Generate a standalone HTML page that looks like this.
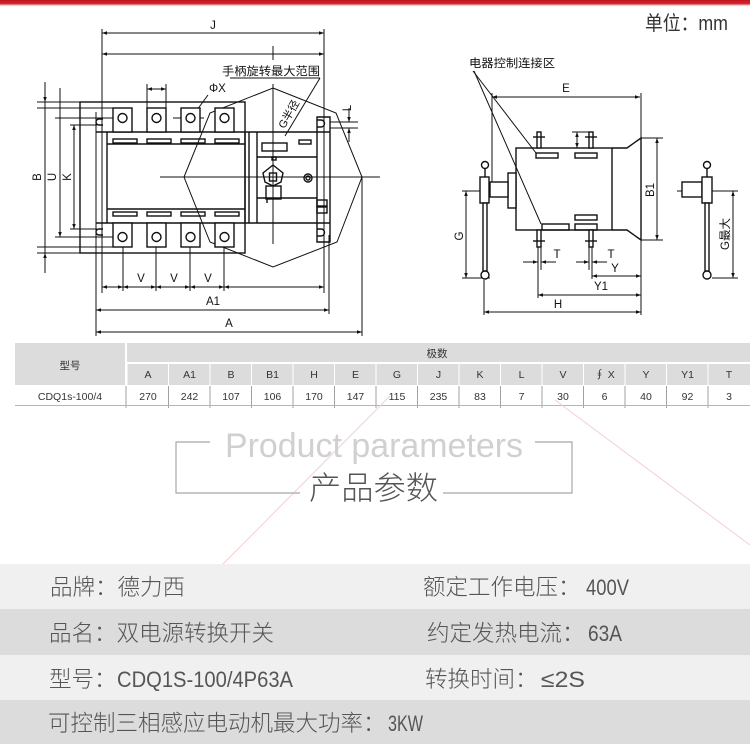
<!DOCTYPE html>
<html><head><meta charset="utf-8">
<style>
html,body{margin:0;padding:0;background:#fff;}
body{width:750px;height:744px;overflow:hidden;position:relative;}
svg{position:absolute;left:0;top:0;}
</style></head><body>
<svg width="750" height="744" viewBox="0 0 750 744" xmlns="http://www.w3.org/2000/svg">
<defs>
<linearGradient id="rg" x1="0" y1="0" x2="0" y2="1">
<stop offset="0" stop-color="#c0141c"/>
<stop offset="0.55" stop-color="#d42a30"/>
<stop offset="1" stop-color="#ffffff" stop-opacity="0"/>
</linearGradient>
<marker id="ar" viewBox="0 0 10 10" refX="10" refY="5" markerWidth="6" markerHeight="5" markerUnits="userSpaceOnUse" orient="auto-start-reverse"><path d="M0,1.5 L10,5 L0,8.5z" fill="#111"/></marker>
</defs>

<rect x="0" y="0" width="750" height="7" fill="url(#rg)"/>

<!-- unit -->
<text x="645" y="30" font-family="Liberation Sans, Noto Sans CJK SC, sans-serif" font-size="20" fill="#333" textLength="83" lengthAdjust="spacingAndGlyphs">单位：mm</text>

<!-- ============ LEFT DIAGRAM ============ -->
<g stroke="#111" stroke-width="1" fill="none">
 <!-- J dims -->
 <line x1="102" y1="33" x2="324" y2="33" marker-start="url(#ar)" marker-end="url(#ar)"/>
 <line x1="102" y1="54" x2="324" y2="54" marker-start="url(#ar)" marker-end="url(#ar)"/>
 <line x1="273" y1="46" x2="273" y2="60"/>
 <line x1="102" y1="29" x2="102" y2="293"/>
 <line x1="324" y1="29" x2="324" y2="293"/>
 <!-- label leader -->
 <line x1="230" y1="78" x2="320" y2="78"/>
 <line x1="320" y1="78" x2="285" y2="136"/>
 <!-- phi X -->
 <line x1="147" y1="84" x2="147" y2="108"/>
 <line x1="166" y1="84" x2="166" y2="108"/>
 <line x1="147" y1="89" x2="166" y2="89" marker-start="url(#ar)" marker-end="url(#ar)"/>
 <line x1="208" y1="95" x2="183" y2="129" marker-end="url(#ar)"/>
 <line x1="173" y1="118" x2="204" y2="118"/>
 <!-- B U K -->
 <line x1="37" y1="102" x2="80" y2="102"/>
 <line x1="37" y1="108" x2="113" y2="108"/>
 <line x1="37" y1="247" x2="113" y2="247"/>
 <line x1="37" y1="253" x2="80" y2="253"/>
 <line x1="45" y1="82" x2="45" y2="102" marker-end="url(#ar)"/>
 <line x1="45" y1="102" x2="45" y2="253"/>
 <line x1="45" y1="273" x2="45" y2="253" marker-end="url(#ar)"/>
 <line x1="55" y1="118" x2="113" y2="118"/>
 <line x1="55" y1="237" x2="113" y2="237"/>
 <line x1="60" y1="88" x2="60" y2="237" marker-end="url(#ar)"/>
 <line x1="70" y1="125" x2="97" y2="125"/>
 <line x1="70" y1="229" x2="97" y2="229"/>
 <line x1="74" y1="125" x2="74" y2="229" marker-start="url(#ar)" marker-end="url(#ar)"/>
 <!-- bottom dims -->
 <line x1="123" y1="247" x2="123" y2="291"/>
 <line x1="156" y1="247" x2="156" y2="291"/>
 <line x1="190" y1="247" x2="190" y2="291"/>
 <line x1="224" y1="247" x2="224" y2="291"/>
 <line x1="102" y1="287" x2="123" y2="287" marker-start="url(#ar)" marker-end="url(#ar)"/>
 <line x1="123" y1="287" x2="156" y2="287" marker-start="url(#ar)" marker-end="url(#ar)"/>
 <line x1="156" y1="287" x2="190" y2="287" marker-start="url(#ar)" marker-end="url(#ar)"/>
 <line x1="190" y1="287" x2="224" y2="287" marker-start="url(#ar)" marker-end="url(#ar)"/>
 <line x1="224" y1="287" x2="324" y2="287" marker-start="url(#ar)" marker-end="url(#ar)"/>
 <line x1="96" y1="310" x2="329" y2="310" marker-start="url(#ar)" marker-end="url(#ar)"/>
 <line x1="96" y1="332" x2="362" y2="332" marker-start="url(#ar)" marker-end="url(#ar)"/>
 <line x1="96" y1="112" x2="96" y2="336"/>
 <line x1="329" y1="235" x2="329" y2="314"/>
 <line x1="362" y1="177" x2="362" y2="336"/>
 <!-- L -->
 <line x1="330" y1="122" x2="358" y2="122"/>
 <line x1="330" y1="128" x2="358" y2="128"/>
 <line x1="349" y1="108" x2="349" y2="122" marker-end="url(#ar)"/>
 <line x1="349" y1="142" x2="349" y2="128" marker-end="url(#ar)"/>
 <!-- octagon & centerlines -->
 <polygon points="273,88 336,113 362,177 337,242 273,267 210,242 184,177 210,113"/>
 <line x1="160" y1="177" x2="380" y2="177"/>
 <line x1="273" y1="84" x2="273" y2="244"/>
</g>

<g stroke="#111" stroke-width="1.4" fill="none">
 <rect x="80" y="102" width="165" height="151"/>
 <line x1="96" y1="132" x2="330" y2="132"/>
 <line x1="96" y1="223" x2="330" y2="223"/>
 <line x1="107" y1="132" x2="107" y2="223"/>
 <line x1="107" y1="144" x2="245" y2="144"/>
 <line x1="107" y1="209" x2="245" y2="209"/>
 <line x1="245" y1="132" x2="245" y2="223"/>
 <line x1="249" y1="132" x2="249" y2="223"/>
 <line x1="257" y1="132" x2="257" y2="223"/>
 <path d="M103,119 H99 A3,3 0 0 0 99,125 H103"/>
 <path d="M103,229 H99 A3,3 0 0 0 99,235 H103"/>
 <!-- terminals -->
 <g fill="#fff">
  <rect x="113" y="108" width="19" height="24"/>
  <rect x="147" y="108" width="19" height="24"/>
  <rect x="181" y="108" width="19" height="24"/>
  <rect x="215" y="108" width="19" height="24"/>
  <rect x="113" y="223" width="19" height="24"/>
  <rect x="147" y="223" width="19" height="24"/>
  <rect x="181" y="223" width="19" height="24"/>
  <rect x="215" y="223" width="19" height="24"/>
 </g>
 <circle cx="122.5" cy="118" r="4.5"/><circle cx="156.5" cy="118" r="4.5"/><circle cx="190.5" cy="118" r="4.5"/><circle cx="224.5" cy="118" r="4.5"/>
 <circle cx="122.5" cy="237" r="4.5"/><circle cx="156.5" cy="237" r="4.5"/><circle cx="190.5" cy="237" r="4.5"/><circle cx="224.5" cy="237" r="4.5"/>
 <rect x="113" y="139" width="24" height="4"/><rect x="147" y="139" width="24" height="4"/><rect x="181" y="139" width="24" height="4"/><rect x="215" y="139" width="24" height="4"/>
 <rect x="113" y="212" width="24" height="4"/><rect x="147" y="212" width="24" height="4"/><rect x="181" y="212" width="24" height="4"/><rect x="215" y="212" width="24" height="4"/>
 <!-- controller -->
 <line x1="257" y1="157" x2="317" y2="157"/>
 <line x1="257" y1="198" x2="317" y2="198"/>
 <rect x="262" y="143" width="25" height="8"/>
 <rect x="299" y="140" width="12" height="4"/>
 <rect x="272" y="157" width="4" height="3"/>
 <path d="M273,165 L283,173 L281,182 L273,186 L265,182 L263,173 Z"/>
 <rect x="269.5" y="173" width="7" height="8"/>
 <rect x="266" y="186" width="15" height="13"/>
 <line x1="267" y1="199" x2="267" y2="203"/>
 <circle cx="308" cy="178" r="4"/><circle cx="308" cy="178" r="2"/>
 <path d="M317,117 H330 V242 H317 Z"/>
 <path d="M317,120 H321 A3,3 0 0 1 321,127 H317"/>
 <path d="M317,229 H321 A3,3 0 0 1 321,236 H317"/>
 <rect x="317" y="200" width="10" height="6"/>
 <rect x="317" y="207" width="10" height="6"/>
</g>

<g font-family="Liberation Sans, Noto Sans CJK SC, sans-serif" font-size="11.5" fill="#111">
 <text x="213" y="29" text-anchor="middle">J</text>
 <text x="222" y="75" font-size="11.5" textLength="98" lengthAdjust="spacingAndGlyphs">手柄旋转最大范围</text>
 <text x="209" y="92">ΦX</text>
 <text x="141" y="282" text-anchor="middle">V</text>
 <text x="174" y="282" text-anchor="middle">V</text>
 <text x="208" y="282" text-anchor="middle">V</text>
 <text x="213" y="305" text-anchor="middle">A1</text>
 <text x="229" y="327" text-anchor="middle">A</text>
 <text transform="translate(41,177) rotate(-90)" text-anchor="middle">B</text>
 <text transform="translate(56,177) rotate(-90)" text-anchor="middle">U</text>
 <text transform="translate(71,177) rotate(-90)" text-anchor="middle">K</text>
 <text transform="translate(351,108) rotate(-90)" text-anchor="middle">L</text>
 <text transform="translate(292,116) rotate(-60)" text-anchor="middle" font-size="11">G半径</text>
</g>

<!-- ============ RIGHT DIAGRAM ============ -->
<g stroke="#111" stroke-width="1" fill="none">
 <line x1="473" y1="71" x2="536" y2="153"/>
 <line x1="474" y1="71" x2="541" y2="224"/>
 <line x1="492" y1="97" x2="640" y2="97" marker-start="url(#ar)" marker-end="url(#ar)"/>
 <line x1="492" y1="93" x2="492" y2="182"/>
 <line x1="641" y1="93" x2="641" y2="138"/>
 <line x1="657" y1="138" x2="657" y2="240" marker-start="url(#ar)" marker-end="url(#ar)"/>
 <line x1="641" y1="138" x2="663" y2="138"/>
 <line x1="641" y1="240" x2="663" y2="240"/>
 <line x1="577" y1="132" x2="577" y2="148" marker-start="url(#ar)" marker-end="url(#ar)"/>
 <line x1="572" y1="132" x2="589" y2="132"/>
 <!-- G left -->
 <line x1="462" y1="191" x2="490" y2="191"/>
 <line x1="462" y1="278" x2="490" y2="278"/>
 <line x1="466" y1="191" x2="466" y2="278" marker-start="url(#ar)" marker-end="url(#ar)"/>
 <!-- T, Y, Y1, H -->
 <line x1="538" y1="247" x2="538" y2="298"/>
 <line x1="541" y1="247" x2="541" y2="270"/>
 <line x1="589" y1="247" x2="589" y2="270"/>
 <line x1="592" y1="247" x2="592" y2="279"/>
 <line x1="641" y1="240" x2="641" y2="315"/>
 <line x1="484" y1="280" x2="484" y2="315"/>
 <line x1="523" y1="262" x2="538" y2="262" marker-end="url(#ar)"/>
 <line x1="556" y1="262" x2="541" y2="262" marker-end="url(#ar)"/>
 <line x1="576" y1="262" x2="589" y2="262" marker-end="url(#ar)"/>
 <line x1="607" y1="262" x2="592" y2="262" marker-end="url(#ar)"/>
 <line x1="592" y1="276" x2="641" y2="276" marker-start="url(#ar)" marker-end="url(#ar)"/>
 <line x1="538" y1="295" x2="641" y2="295" marker-start="url(#ar)" marker-end="url(#ar)"/>
 <line x1="484" y1="312" x2="641" y2="312" marker-start="url(#ar)" marker-end="url(#ar)"/>
 <!-- right view dims -->
 <line x1="677" y1="191" x2="738" y2="191"/>
 <line x1="712" y1="278" x2="738" y2="278"/>
 <line x1="733" y1="191" x2="733" y2="278" marker-start="url(#ar)" marker-end="url(#ar)"/>
</g>
<g stroke="#111" stroke-width="1.4" fill="none">
 <rect x="516" y="148" width="96" height="82"/>
 <polyline points="612,148 627,148 641,138 641,240 627,230 612,230"/>
 <rect x="536" y="153" width="22" height="5"/>
 <rect x="575" y="153" width="22" height="5"/>
 <rect x="542" y="224" width="27" height="6"/>
 <rect x="575" y="224" width="22" height="6"/>
 <rect x="575" y="215" width="22" height="5"/>
 <rect x="537" y="132" width="4" height="16" fill="#fff"/>
 <line x1="533" y1="137" x2="545" y2="137"/>
 <rect x="589" y="132" width="4" height="16" fill="#fff"/>
 <line x1="585" y1="137" x2="597" y2="137"/>
 <rect x="537" y="230" width="4" height="17" fill="#fff"/>
 <line x1="533" y1="241" x2="545" y2="241"/>
 <rect x="589" y="230" width="4" height="17" fill="#fff"/>
 <line x1="585" y1="241" x2="597" y2="241"/>
 <!-- left handle -->
 <rect x="508" y="173" width="8" height="35" fill="#fff"/>
 <rect x="490" y="182" width="18" height="15" fill="#fff"/>
 <line x1="485" y1="168" x2="485" y2="177"/>
 <rect x="480" y="177" width="9" height="26" fill="#fff"/>
 <rect x="483" y="203" width="4" height="68" fill="#fff"/>
 <circle cx="485" cy="165" r="3.5" fill="#fff"/>
 <circle cx="485" cy="275" r="4" fill="#fff"/>
 <!-- right handle -->
 <rect x="682" y="182" width="20" height="15" fill="#fff"/>
 <line x1="707" y1="168" x2="707" y2="177"/>
 <rect x="702" y="177" width="10" height="26" fill="#fff"/>
 <rect x="705" y="203" width="4" height="68" fill="#fff"/>
 <circle cx="707" cy="165" r="3.5" fill="#fff"/>
 <circle cx="707" cy="275" r="4" fill="#fff"/>
</g>
<g font-family="Liberation Sans, Noto Sans CJK SC, sans-serif" font-size="11.5" fill="#111">
 <text x="469" y="67" textLength="86" lengthAdjust="spacingAndGlyphs">电器控制连接区</text>
 <text x="566" y="92" text-anchor="middle">E</text>
 <text transform="translate(654,190) rotate(-90)" text-anchor="middle">B1</text>
 <text transform="translate(463,236) rotate(-90)" text-anchor="middle">G</text>
 <text transform="translate(729,234) rotate(-90)" text-anchor="middle">G最大</text>
 <text x="557" y="258" text-anchor="middle">T</text>
 <text x="611" y="258" text-anchor="middle">T</text>
 <text x="615" y="272" text-anchor="middle">Y</text>
 <text x="601" y="290" text-anchor="middle">Y1</text>
 <text x="558" y="308" text-anchor="middle">H</text>
</g>

<!-- ============ TABLE ============ -->
<g fill="#dcdcdc">
 <rect x="15" y="343" width="110" height="42"/>
 <rect x="127" y="343" width="623" height="19"/>
</g>
<g fill="#dcdcdc">
 <rect x="127.5" y="364" width="40.5" height="21"/>
 <rect x="169" y="364" width="40.5" height="21"/>
 <rect x="210.5" y="364" width="40.5" height="21"/>
 <rect x="252" y="364" width="40.5" height="21"/>
 <rect x="293.5" y="364" width="40.5" height="21"/>
 <rect x="335" y="364" width="40.5" height="21"/>
 <rect x="376.5" y="364" width="40.5" height="21"/>
 <rect x="418" y="364" width="40.5" height="21"/>
 <rect x="459.5" y="364" width="40.5" height="21"/>
 <rect x="501" y="364" width="40.5" height="21"/>
 <rect x="542.5" y="364" width="40.5" height="21"/>
 <rect x="584" y="364" width="40.5" height="21"/>
 <rect x="625.5" y="364" width="40.5" height="21"/>
 <rect x="667" y="364" width="40.5" height="21"/>
 <rect x="708.5" y="364" width="41.5" height="21"/>
</g>
<g stroke="#8a8a8a" stroke-width="0.8">
 <line x1="126" y1="386" x2="126" y2="408"/>
 <line x1="168.5" y1="386" x2="168.5" y2="408"/>
 <line x1="210" y1="386" x2="210" y2="408"/>
 <line x1="251.5" y1="386" x2="251.5" y2="408"/>
 <line x1="293" y1="386" x2="293" y2="408"/>
 <line x1="334.5" y1="386" x2="334.5" y2="408"/>
 <line x1="376" y1="386" x2="376" y2="408"/>
 <line x1="417.5" y1="386" x2="417.5" y2="408"/>
 <line x1="459" y1="386" x2="459" y2="408"/>
 <line x1="500.5" y1="386" x2="500.5" y2="408"/>
 <line x1="542" y1="386" x2="542" y2="408"/>
 <line x1="583.5" y1="386" x2="583.5" y2="408"/>
 <line x1="625" y1="386" x2="625" y2="408"/>
 <line x1="666.5" y1="386" x2="666.5" y2="408"/>
 <line x1="708" y1="386" x2="708" y2="408"/>
</g>
<line x1="15" y1="405.5" x2="750" y2="405.5" stroke="#b5b5b5" stroke-width="1"/>
<g font-family="Liberation Sans, Noto Sans CJK SC, sans-serif" font-size="10.5" fill="#333" text-anchor="middle">
 <text x="70" y="369">型号</text>
 <text x="437" y="357">极数</text>
 <text x="70" y="400">CDQ1s-100/4</text>
 <text x="148" y="378">A</text><text x="189.5" y="378">A1</text><text x="231" y="378">B</text><text x="272.5" y="378">B1</text>
 <text x="314" y="378">H</text><text x="355.5" y="378">E</text><text x="397" y="378">G</text><text x="438.5" y="378">J</text>
 <text x="480" y="378">K</text><text x="521.5" y="378">L</text><text x="563" y="378">V</text><text x="604.5" y="378">∮ X</text>
 <text x="646" y="378">Y</text><text x="687.5" y="378">Y1</text><text x="729" y="378">T</text>
 <text x="148" y="400">270</text><text x="189.5" y="400">242</text><text x="231" y="400">107</text><text x="272.5" y="400">106</text>
 <text x="314" y="400">170</text><text x="355.5" y="400">147</text><text x="397" y="400">115</text><text x="438.5" y="400">235</text>
 <text x="480" y="400">83</text><text x="521.5" y="400">7</text><text x="563" y="400">30</text><text x="604.5" y="400">6</text>
 <text x="646" y="400">40</text><text x="687.5" y="400">92</text><text x="729" y="400">3</text>
</g>

<!-- ============ TITLE ============ -->
<line x1="390" y1="396" x2="223" y2="564" stroke="#f3cfcf" stroke-width="1"/>
<line x1="555" y1="400" x2="750" y2="545" stroke="#f3cfcf" stroke-width="1"/>
<polyline points="210,442 176,442 176,493 300,493" fill="none" stroke="#a8a8a8" stroke-width="1.2"/>
<polyline points="535,442 572,442 572,493 443,493" fill="none" stroke="#a8a8a8" stroke-width="1.2"/>
<text x="225" y="457" font-family="Liberation Sans, sans-serif" font-size="34" fill="#d0d0d0" textLength="298" lengthAdjust="spacingAndGlyphs">Product parameters</text>
<text x="309" y="499" font-family="Liberation Sans, Noto Sans CJK SC, sans-serif" font-size="32" font-weight="300" fill="#555" textLength="129" lengthAdjust="spacingAndGlyphs">产品参数</text>

<!-- ============ INFO ROWS ============ -->
<rect x="0" y="564" width="750" height="45" fill="#f0f0f0"/>
<rect x="0" y="609" width="750" height="46" fill="#dcdcdc"/>
<rect x="0" y="655" width="750" height="45" fill="#f0f0f0"/>
<rect x="0" y="700" width="750" height="44" fill="#dcdcdc"/>
<g font-family="Liberation Sans, Noto Sans CJK SC, sans-serif" font-size="22.5" font-weight="300" fill="#555">
 <text x="50" y="595">品牌：德力西</text>
 <text x="423" y="595">额定工作电压：</text>
 <text x="586" y="595" textLength="43" lengthAdjust="spacingAndGlyphs">400V</text>
 <text x="49" y="641">品名：双电源转换开关</text>
 <text x="427" y="641">约定发热电流：</text>
 <text x="588" y="641" textLength="34" lengthAdjust="spacingAndGlyphs">63A</text>
 <text x="49" y="687">型号：</text>
 <text x="117" y="687" textLength="176" lengthAdjust="spacingAndGlyphs">CDQ1S-100/4P63A</text>
 <text x="425" y="687">转换时间：</text>
 <text x="541" y="687" textLength="44" lengthAdjust="spacingAndGlyphs">≤2S</text>
 <text x="48" y="731">可控制三相感应电动机最大功率：</text>
 <text x="388" y="731" textLength="35" lengthAdjust="spacingAndGlyphs">3KW</text>
</g>
</svg>
</body></html>
